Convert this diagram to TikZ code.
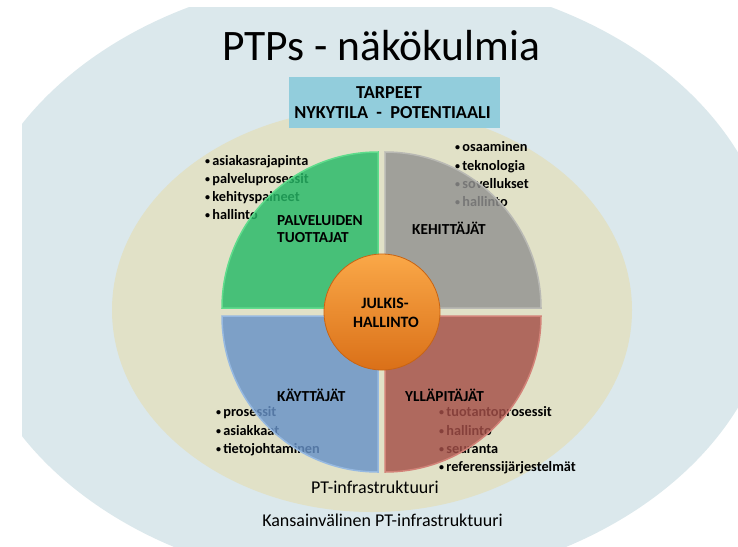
\documentclass[tikz,border=0pt]{standalone}
\usepackage{fontspec}
\setmainfont{Carlito}
\definecolor{outerblue}{RGB}{219,232,236}
\definecolor{beige}{RGB}{225,225,199}
\definecolor{tarpblue}{RGB}{146,205,220}
\definecolor{qgreen}{RGB}{38,185,103}
\definecolor{qgreenE}{RGB}{95,220,140}
\definecolor{qgray}{RGB}{146,146,145}
\definecolor{qgrayE}{RGB}{185,185,180}
\definecolor{qblue}{RGB}{103,146,200}
\definecolor{qblueE}{RGB}{150,185,225}
\definecolor{qred}{RGB}{164,79,72}
\definecolor{qredE}{RGB}{210,130,120}
\definecolor{orTop}{RGB}{250,168,72}
\definecolor{orBot}{RGB}{218,112,24}
\definecolor{orEdge}{RGB}{200,100,20}
\newcommand{\blt}{\raisebox{0.8pt}{\fontsize{10}{10}\selectfont •}\hspace{2.2pt}}
\begin{document}
\begin{tikzpicture}[x=1pt,y=-1pt,
  listitem/.style={font=\bfseries\fontsize{14.3}{17}\selectfont, anchor=base west, inner sep=0pt},
  qlabel/.style={font=\bfseries\fontsize{15.3}{18}\selectfont, anchor=base west, inner sep=0pt},
  quad/.style={fill opacity=0.82, line width=1.5pt},
  bottomtext/.style={font=\fontsize{18}{22}\selectfont, anchor=base, inner sep=0pt}]
\useasboundingbox (0,0) rectangle (738,546);
\fill[white] (0,0) rectangle (738,546);
\begin{scope}
  \clip (22,7) rectangle (738,546);
  \fill[outerblue] (370,280) ellipse [x radius=405pt, y radius=305pt];
\end{scope}
\fill[beige] (372,310) ellipse [x radius=260pt, y radius=202pt];

% title
\node[font=\fontsize{43.5}{50}\selectfont, anchor=base, inner sep=0pt] (title) at (381,60) {PTPs - näkökulmia};

% lists (drawn before the translucent quadrants)
\node[listitem] (g1) at (205,165) {\blt asiakasrajapinta};
\node[listitem] (g2) at (205,183) {\blt palveluprosessit};
\node[listitem] (g3) at (205,201) {\blt kehityspaineet};
\node[listitem] (g4) at (205,219) {\blt hallinto};

\node[listitem] (k1) at (455,151) {\blt osaaminen};
\node[listitem] (k2) at (455,170) {\blt teknologia};
\node[listitem] (k3) at (455,188) {\blt sovellukset};
\node[listitem] (k4) at (455,206) {\blt hallinto};

\node[listitem] (b1) at (216,416) {\blt prosessit};
\node[listitem] (b2) at (216,435) {\blt asiakkaat};
\node[listitem] (b3) at (216,453) {\blt tietojohtaminen};

\node[listitem] (r1) at (439,416) {\blt tuotantoprosessit};
\node[listitem] (r2) at (439,435) {\blt hallinto};
\node[listitem] (r3) at (439,453) {\blt seuranta};
\node[listitem] (r4) at (439,471) {\blt referenssijärjestelmät};

% quadrants
\path[quad, fill=qgreen, draw=qgreenE] (378,308) -- (222,308) arc[start angle=180, end angle=90, radius=156pt] -- cycle;
\path[quad, fill=qgray, draw=qgrayE] (385,308) -- (385,152) arc[start angle=90, end angle=0, radius=156pt] -- cycle;
\path[quad, fill=qblue, draw=qblueE] (378,316) -- (222,316) arc[start angle=180, end angle=270, radius=156pt] -- cycle;
\path[quad, fill=qred, draw=qredE] (385,316) -- (541,316) arc[start angle=0, end angle=-90, radius=156pt] -- cycle;

% quadrant labels
\node[qlabel] (pt1) at (277,225) {PALVELUIDEN};
\node[qlabel] (pt2) at (277,242) {TUOTTAJAT};
\node[qlabel] (keh) at (412,234) {KEHITTÄJÄT};
\node[qlabel] (kay) at (277,401) {KÄYTTÄJÄT};
\node[qlabel] (yll) at (405,401) {YLLÄPITÄJÄT};

% centre
\shade[top color=orTop, bottom color=orBot, draw=orEdge, line width=0.8pt] (382,312) circle [radius=58pt];
\node[font=\bfseries\fontsize{15.8}{18}\selectfont, anchor=base, inner sep=0pt] (jh1) at (385,308) {JULKIS-};
\node[font=\bfseries\fontsize{15.8}{18}\selectfont, anchor=base, inner sep=0pt] (jh2) at (386,327) {HALLINTO};

% tarpeet box
\node[fill=tarpblue, minimum width=211pt, minimum height=51pt, inner sep=0pt] (tbox) at (394.5,102.5) {};
\node[font=\bfseries\fontsize{18.3}{21}\selectfont, anchor=base, inner sep=0pt] (t1) at (389,98) {TARPEET};
\node[font=\bfseries\fontsize{18.3}{21}\selectfont, anchor=base, inner sep=0pt] (t2) at (392.5,118) {NYKYTILA\ \ -\ \ POTENTIAALI};

% bottom texts
\node[bottomtext] (pti) at (375,493) {PT-infrastruktuuri};
\node[bottomtext] (kpti) at (382.5,526) {Kansainvälinen PT-infrastruktuuri};
\end{tikzpicture}
\end{document}
